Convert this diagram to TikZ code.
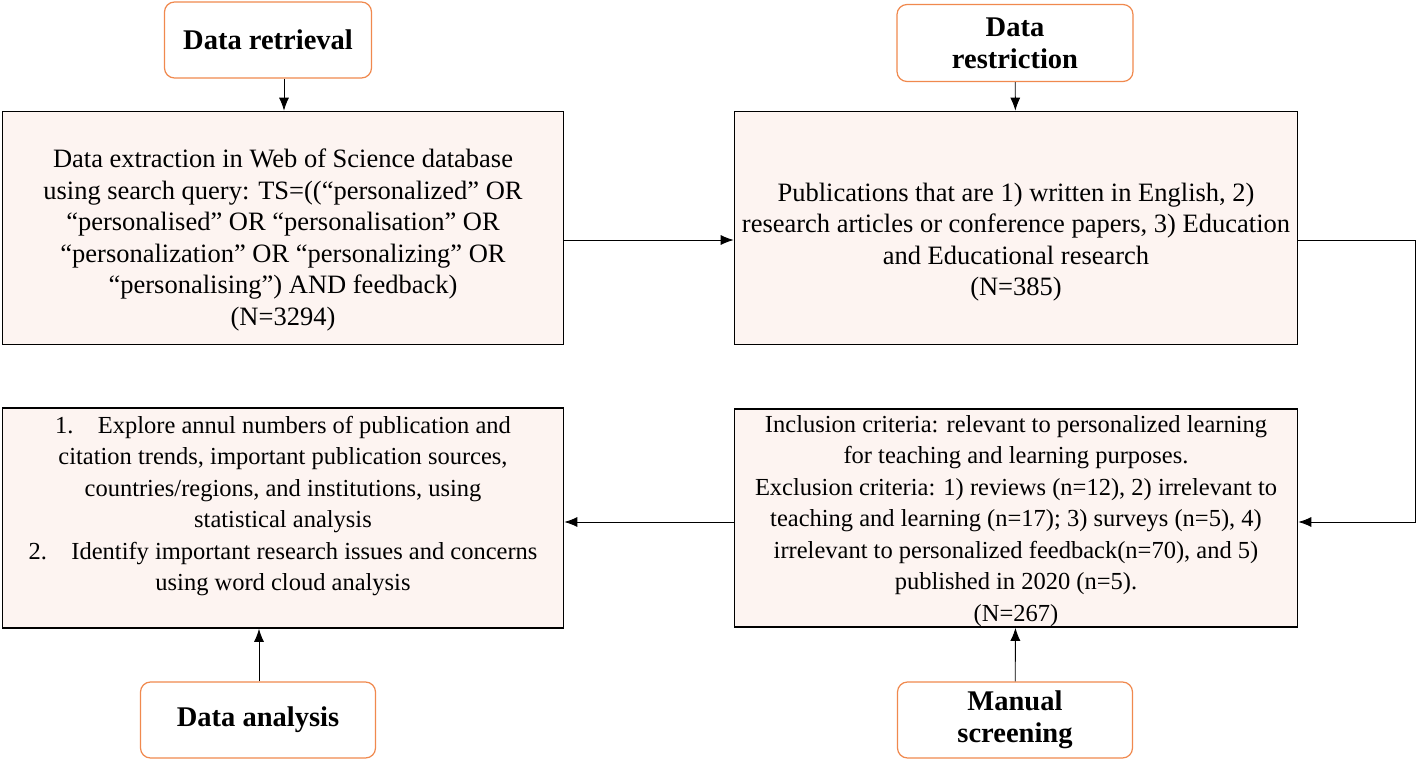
\documentclass[tikz,border=0pt]{standalone}
\usepackage{fontspec}
\setmainfont{Liberation Serif}
\usetikzlibrary{arrows.meta}
\definecolor{orng}{HTML}{F0894E}
\definecolor{pinkf}{HTML}{FDF4F1}
\begin{document}
\begin{tikzpicture}[x=1pt,y=-1pt,
  head/.style={draw=orng,line width=1.2pt,rounded corners=10pt,fill=white,font=\fontsize{28.5}{32}\selectfont\bfseries,align=center,inner sep=0},
  mbox/.style={draw=black,line width=1.6pt,fill=pinkf,inner sep=0},
  txt/.style={font=\fontsize{26.5}{31.5}\selectfont,align=center,inner sep=0},
  txts/.style={font=\fontsize{24.5}{31.5}\selectfont,align=center,inner sep=0},
  arr/.style={-{Latex[length=13pt,width=10pt]},line width=0.9pt}]
\useasboundingbox (0,0) rectangle (1417,760);
\node[head,minimum width=207pt,minimum height=76pt] (ret) at (268,40) {Data retrieval};
\node[head,minimum width=236pt,minimum height=77pt] (res) at (1015,43) {Data\\restriction};
\node[head,minimum width=235pt,minimum height=76pt] (ana) at (258,720) {Data analysis};
\node[head,minimum width=235pt,minimum height=76pt] (man) at (1015,720) {Manual\\screening};
\node[mbox,minimum width=561pt,minimum height=233pt] (b1) at (283,228) {};
\node[txt] at (283,240) {Data extraction in Web of Science database\\using search query: TS=((“personalized” OR\\“personalised” OR “personalisation” OR\\“personalization” OR “personalizing” OR\\“personalising”) AND feedback)\\(N=3294)};
\node[mbox,minimum width=563pt,minimum height=233pt] (b2) at (1016,228) {};
\node[txt] at (1016,242) {Publications that are 1) written in English, 2)\\research articles or conference papers, 3) Education\\and Educational research\\(N=385)};
\node[mbox,minimum width=561pt,minimum height=220pt] (b3) at (283,518) {};
\node[txts] at (283,506) {1.\quad Explore annul numbers of publication and\\citation trends, important publication sources,\\countries/regions, and institutions, using\\statistical analysis\\2.\quad Identify important research issues and concerns\\using word cloud analysis};
\node[mbox,minimum width=563pt,minimum height=218pt] (b4) at (1016,518) {};
\node[txts] at (1016,521) {Inclusion criteria: relevant to personalized learning\\for teaching and learning purposes.\\Exclusion criteria: 1) reviews (n=12), 2) irrelevant to\\teaching and learning (n=17); 3) surveys (n=5), 4)\\irrelevant to personalized feedback(n=70), and 5)\\published in 2020 (n=5).\\(N=267)};
\coordinate (c1) at (1415,240);
\coordinate (c2) at (1415,522);
\draw[arr] (ret.south -| 284,0) -- (b1.north -| 284,0);
\draw[arr] (res) -- (b2);
\draw[arr] (b1.east |- 0,240) -- (b2.west |- 0,240);
\draw[arr] (b2.east |- c1) -- (c1) -- (c2) -- (b4.east |- c2);
\draw[arr] (b4.west |- 0,522) -- (b3.east |- 0,522);
\draw[arr] (ana.north -| 259,0) -- (b3.south -| 259,0);
\draw[arr] (man) -- (b4);
\end{tikzpicture}
\end{document}
